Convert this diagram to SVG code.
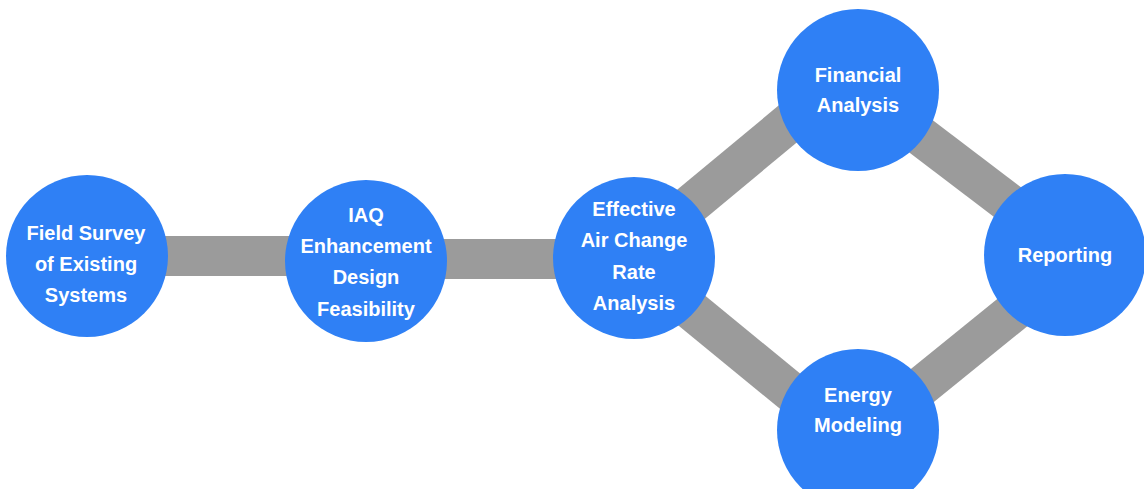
<svg xmlns="http://www.w3.org/2000/svg" width="1144" height="489" viewBox="0 0 1144 489">
<style>
.bar{stroke:#9b9b9b;stroke-width:40;fill:none}
.node{fill:#2f80f5}
.t{font-family:"Liberation Sans",Arial,Helvetica,sans-serif;font-weight:bold;font-size:20px;fill:#ffffff;text-anchor:middle}
</style>
<rect width="1144" height="489" fill="#ffffff"/>
<g id="connectors">
<line class="bar" x1="120" y1="256" x2="330" y2="256"/>
<line class="bar" x1="400" y1="259" x2="600" y2="259"/>
<line class="bar" x1="660" y1="230" x2="810" y2="105.5"/>
<line class="bar" x1="660" y1="284.5" x2="810" y2="407.5"/>
<line class="bar" x1="900" y1="120.4" x2="1020" y2="211.6"/>
<line class="bar" x1="900" y1="403.6" x2="1020" y2="306.4"/>
</g>
<g id="field-survey">
<circle class="node" cx="87" cy="256" r="81"/>
<text class="t" x="86" y="240">Field Survey</text>
<text class="t" x="86" y="271">of Existing</text>
<text class="t" x="86" y="302">Systems</text>
</g>
<g id="iaq">
<circle class="node" cx="366" cy="261" r="81"/>
<text class="t" x="366" y="222">IAQ</text>
<text class="t" x="366" y="253">Enhancement</text>
<text class="t" x="366" y="284">Design</text>
<text class="t" x="366" y="316">Feasibility</text>
</g>
<g id="effective">
<circle class="node" cx="634" cy="258" r="81"/>
<text class="t" x="634" y="216">Effective</text>
<text class="t" x="634" y="247">Air Change</text>
<text class="t" x="634" y="279">Rate</text>
<text class="t" x="634" y="310">Analysis</text>
</g>
<g id="financial">
<circle class="node" cx="858" cy="90" r="81"/>
<text class="t" x="858" y="82">Financial</text>
<text class="t" x="858" y="112">Analysis</text>
</g>
<g id="energy">
<circle class="node" cx="858" cy="430" r="81"/>
<text class="t" x="858" y="402">Energy</text>
<text class="t" x="858" y="432">Modeling</text>
</g>
<g id="reporting">
<circle class="node" cx="1065" cy="255" r="81"/>
<text class="t" x="1065" y="262">Reporting</text>
</g>
</svg>
